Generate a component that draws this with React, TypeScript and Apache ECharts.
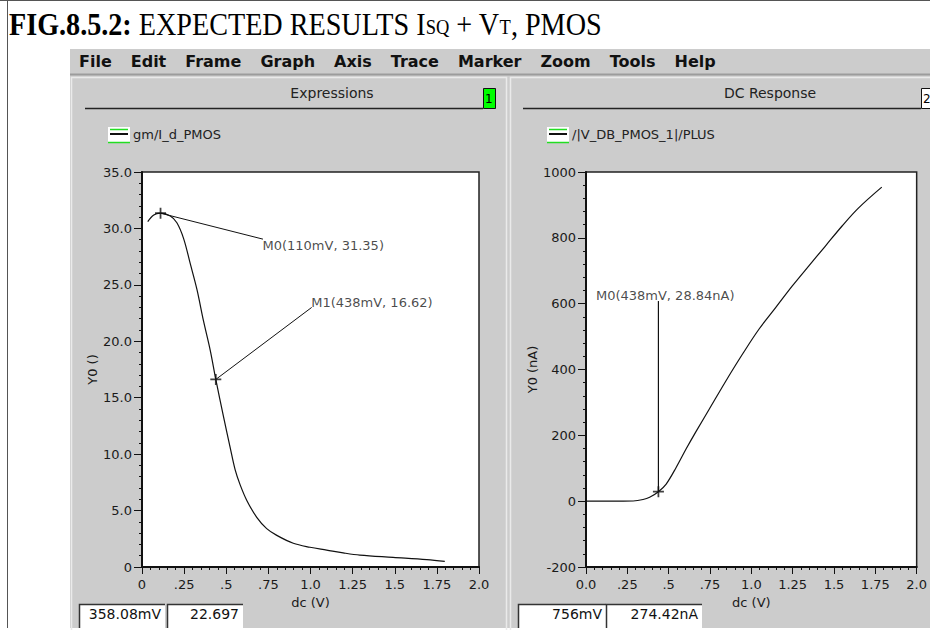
import React, { useEffect, useRef } from "react";
import * as echarts from "echarts";

// ---------- texts ----------
const menuItems = ["File", "Edit", "Frame", "Graph", "Axis", "Trace", "Marker", "Zoom", "Tools", "Help"];
const panelTitles = ["Expressions", "DC Response"];
const panelNumbers = ["1", "2"];
const legendNames = ["gm/I_d_PMOS", "/|V_DB_PMOS_1|/PLUS"];
const xAxisName = "dc (V)";
const yAxisNames = ["Y0 ()", "Y0 (nA)"];

// ---------- tick labels ----------
const xTickLabelsLeft = ["0", ".25", ".5", ".75", "1.0", "1.25", "1.5", "1.75", "2.0"];
const xTickLabelsRight = ["0.0", ".25", ".5", ".75", "1.0", "1.25", "1.5", "1.75", "2.0"];
const yTickLabelsLeft = ["0", "5.0", "10.0", "15.0", "20.0", "25.0", "30.0", "35.0"];
const yTickLabelsRight = ["-200", "0", "200", "400", "600", "800", "1000"];

// ---------- gm/Id curve ----------
const gmX = [0.034, 0.07, 0.11, 0.168, 0.207, 0.247, 0.286, 0.326, 0.365, 0.405, 0.438, 0.484, 0.523, 0.553, 0.582, 0.622, 0.681, 0.74, 0.8, 0.898, 0.997, 1.096, 1.194, 1.293, 1.49, 1.69, 1.797];
const gmY = [30.6, 31.2, 31.35, 31.1, 30.5, 29.1, 26.9, 24.6, 21.8, 19.2, 16.62, 13.3, 10.6, 8.6, 7.3, 5.9, 4.4, 3.4, 2.8, 2.1, 1.75, 1.5, 1.25, 1.05, 0.85, 0.65, 0.5];

// ---------- Id curve (nA) ----------
const idX = [0, 0.1, 0.2, 0.285, 0.345, 0.385, 0.438, 0.485, 0.546, 0.606, 0.666, 0.746, 0.847, 0.947, 1.047, 1.147, 1.248, 1.348, 1.448, 1.549, 1.649, 1.789];
const idY = [0, 0, 0, 0.5, 5, 12, 28.84, 52, 103, 159, 212, 280, 366, 447, 523, 588, 654, 715, 775, 836, 891, 954];

// ---------- markers ----------
const gmMarkerX = [0.11, 0.438];
const gmMarkerY = [31.35, 16.62];
const gmMarkerLabels = ["M0(110mV, 31.35)", "M1(438mV, 16.62)"];
const gmLabelAnchorX = [0.718, 1.007];
const gmLabelAnchorY = [29.05, 23.0];

const idMarkerX = [0.438];
const idMarkerY = [28.84];
const idMarkerLabels = ["M0(438mV, 28.84nA)"];
const idLabelAnchorY = [608];

// ---------- cursor readouts ----------
const readoutLeft = ["358.08mV", "22.697"];
const readoutRight = ["756mV", "274.42nA"];

const SANS = "DejaVu Sans";
const INK = "#1a1a1a";
const GREY = "#cccccc";
const CROSS = "path://M0,4.2H10V5.8H0Z M4.2,0H5.8V10H4.2Z";

function measure(text: string, font: string): number {
  const c = document.createElement("canvas").getContext("2d");
  if (!c) return text.length * 9;
  c.font = font;
  return c.measureText(text).width;
}

function xAxisOpt(gridIndex: number, labels: string[]) {
  return {
    type: "value",
    gridIndex,
    min: 0,
    max: 2,
    interval: 0.25,
    axisLine: { show: true, onZero: false, lineStyle: { color: "#111", width: 2 } },
    axisTick: { show: true, length: 7, lineStyle: { color: "#111", width: 1 } },
    minorTick: { show: true, splitNumber: 5, length: 3, lineStyle: { color: "#111", width: 1 } },
    splitLine: { show: false },
    minorSplitLine: { show: false },
    axisLabel: {
      margin: 11,
      hideOverlap: false,
      showMinLabel: true,
      showMaxLabel: true,
      fontFamily: SANS,
      fontSize: 13,
      color: INK,
      formatter: (v: number) => labels[Math.round(v / 0.25)] ?? "",
    },
    name: xAxisName,
    nameLocation: "middle",
    nameGap: 28,
    nameTextStyle: { fontFamily: SANS, fontSize: 13, color: INK },
  };
}

function yAxisOpt(gridIndex: number, min: number, max: number, interval: number, labels: string[], name: string, nameGap: number) {
  return {
    type: "value",
    gridIndex,
    min,
    max,
    interval,
    axisLine: { show: true, onZero: false, lineStyle: { color: "#111", width: 2 } },
    axisTick: { show: true, length: 8, lineStyle: { color: "#111", width: 1 } },
    minorTick: { show: true, splitNumber: 5, length: 3, lineStyle: { color: "#111", width: 1 } },
    splitLine: { show: false },
    minorSplitLine: { show: false },
    axisLabel: {
      margin: 10,
      hideOverlap: false,
      showMinLabel: true,
      showMaxLabel: true,
      fontFamily: SANS,
      fontSize: 13,
      color: INK,
      formatter: (v: number) => labels[Math.round((v - min) / interval)] ?? "",
    },
    name,
    nameLocation: "middle",
    nameGap,
    nameRotate: 90,
    nameTextStyle: { fontFamily: SANS, fontSize: 13, color: INK },
  };
}

function buildGraphic() {
  const g: any[] = [];
  // outer frame lines
  g.push({ type: "line", z: -20, shape: { x1: 0, y1: 0.5, x2: 930, y2: 0.5 }, style: { stroke: "#555", lineWidth: 1 } });
  g.push({ type: "line", z: -20, shape: { x1: 7.5, y1: 0, x2: 7.5, y2: 628 }, style: { stroke: "#555", lineWidth: 1 } });
  // title
  g.push({
    type: "text",
    z: 5,
    x: 9,
    y: 6,
    scaleX: 0.88,
    style: {
      text: "{b|FIG.8.5.2:}{n| EXPECTED RESULTS I}{s|SQ}{n| + V}{s|T}{n|, PMOS}",
      rich: {
        b: { fontFamily: "Liberation Serif", fontWeight: "bold", fontSize: 32, lineHeight: 34, fill: "#000", verticalAlign: "bottom" },
        n: { fontFamily: "Liberation Serif", fontSize: 32, lineHeight: 34, fill: "#000", verticalAlign: "bottom" },
        s: { fontFamily: "Liberation Serif", fontSize: 21, lineHeight: 21, fill: "#000", verticalAlign: "bottom", padding: [0, 0, 3, 0] },
      },
    },
  });
  // window background
  g.push({ type: "rect", z: -10, shape: { x: 70, y: 49, width: 860, height: 579 }, style: { fill: GREY } });
  // menu bar separator
  g.push({ type: "line", z: -9, shape: { x1: 70, y1: 74.5, x2: 930, y2: 74.5 }, style: { stroke: "#9c9c9c", lineWidth: 2 } });
  // menu
  const menuFont = `bold 16px "${SANS}"`;
  let mx = 79;
  menuItems.forEach((w) => {
    g.push({ type: "text", z: 5, x: mx, y: 61, style: { text: w, fontFamily: SANS, fontWeight: "bold", fontSize: 16, fill: "#111", verticalAlign: "middle", align: "left" } });
    mx += measure(w, menuFont) + 19;
  });
  // panels
  const panels = [
    { x: 71.5, w: 435, titleX: 332, lineX1: 85, lineX2: 483, boxX: 483, boxFill: "#00ff00", legendX: 108 },
    { x: 510.5, w: 430, titleX: 770, lineX1: 523, lineX2: 921, boxX: 921, boxFill: "#ffffff", legendX: 547 },
  ];
  panels.forEach((p, i) => {
    g.push({ type: "rect", z: -9, shape: { x: p.x, y: 77.5, width: p.w, height: 560 }, style: { fill: "none", stroke: "#eaeaea", lineWidth: 1.5 } });
    g.push({ type: "text", z: 5, x: p.titleX, y: 93, style: { text: panelTitles[i], fontFamily: SANS, fontSize: 14, fill: "#222", align: "center", verticalAlign: "middle" } });
    g.push({ type: "line", z: 2, shape: { x1: p.lineX1, y1: 108.5, x2: p.lineX2, y2: 108.5 }, style: { stroke: "#222", lineWidth: 1.5 } });
    g.push({ type: "rect", z: 3, shape: { x: p.boxX + 0.5, y: 88.5, width: 12, height: 20 }, style: { fill: p.boxFill, stroke: "#111", lineWidth: 1 } });
    g.push({ type: "text", z: 4, x: p.boxX + 2, y: 99, style: { text: panelNumbers[i], fontFamily: SANS, fontSize: 12, fill: "#000", align: "left", verticalAlign: "middle" } });
    // legend icon
    const lx = p.legendX;
    g.push({ type: "rect", z: 3, shape: { x: lx, y: 127, width: 22, height: 16 }, style: { fill: "#ffffff" } });
    g.push({ type: "line", z: 4, shape: { x1: lx + 2, y1: 129.5, x2: lx + 20, y2: 129.5 }, style: { stroke: "#22dd22", lineWidth: 1.5 } });
    g.push({ type: "line", z: 4, shape: { x1: lx + 2, y1: 134, x2: lx + 20, y2: 134 }, style: { stroke: "#111", lineWidth: 2 } });
    g.push({ type: "line", z: 4, shape: { x1: lx, y1: 142.5, x2: lx + 22, y2: 142.5 }, style: { stroke: "#22dd22", lineWidth: 1.5 } });
    g.push({ type: "text", z: 5, x: lx + 25, y: 134, style: { text: legendNames[i], fontFamily: SANS, fontSize: 13, fill: "#222", verticalAlign: "middle", align: "left" } });
  });
  // readout boxes
  const readouts = [
    { boxes: [[79, 165], [167, 243]], texts: readoutLeft },
    { boxes: [[518, 606], [606, 702]], texts: readoutRight },
  ];
  readouts.forEach((r) => {
    r.boxes.forEach(([x1, x2], j) => {
      g.push({ type: "rect", z: 3, shape: { x: x1, y: 604, width: x2 - x1, height: 24 }, style: { fill: "#ffffff" } });
      g.push({ type: "polyline", z: 4, shape: { points: [[x1 + 0.5, 628], [x1 + 0.5, 604.5], [x2, 604.5]] }, style: { stroke: "#333", lineWidth: 1.5, fill: "none" } });
      g.push({ type: "text", z: 5, x: x2 - 4, y: 614, style: { text: r.texts[j], fontFamily: SANS, fontSize: 14, fill: "#111", align: "right", verticalAlign: "middle" } });
    });
  });
  return g;
}

export default function App() {
  const ref = useRef<HTMLDivElement>(null);
  useEffect(() => {
    if (!ref.current) return;
    const chart = echarts.init(ref.current, undefined, { renderer: "svg" });
    const labelStyle = { fontFamily: SANS, fontSize: 13, color: INK };
    const option: any = {
      animation: false,
      backgroundColor: "#ffffff",
      graphic: buildGraphic(),
      grid: [
        { left: 142, top: 172, width: 337, height: 395, show: true, backgroundColor: "#ffffff", borderColor: "#222", borderWidth: 1.5, z: 0 },
        { left: 586, top: 172, width: 332, height: 395, show: true, backgroundColor: "#ffffff", borderColor: "#222", borderWidth: 1.5, z: 0 },
      ],
      xAxis: [xAxisOpt(0, xTickLabelsLeft), xAxisOpt(1, xTickLabelsRight)],
      yAxis: [
        yAxisOpt(0, 0, 35, 5, yTickLabelsLeft, yAxisNames[0], 42),
        yAxisOpt(1, -200, 1000, 200, yTickLabelsRight, yAxisNames[1], 46),
      ],
      series: [
        {
          type: "line",
          xAxisIndex: 0,
          yAxisIndex: 0,
          data: gmX.map((x, i) => [x, gmY[i]]),
          showSymbol: false,
          symbol: "none",
          smooth: 0.35,
          lineStyle: { color: "#111", width: 1.2 },
          silent: true,
        },
        {
          type: "line",
          xAxisIndex: 1,
          yAxisIndex: 1,
          data: idX.map((x, i) => [x, idY[i]]),
          showSymbol: false,
          symbol: "none",
          smooth: 0.35,
          lineStyle: { color: "#111", width: 1.2 },
          silent: true,
        },
        ...gmMarkerX.map((x, i) => ({
          type: "line",
          xAxisIndex: 0,
          yAxisIndex: 0,
          data: [[x, gmMarkerY[i]], [gmLabelAnchorX[i], gmLabelAnchorY[i]]],
          showSymbol: false,
          symbol: "none",
          lineStyle: { color: "#111", width: 1 },
          silent: true,
        })),
        ...idMarkerX.map((x, i) => ({
          type: "line",
          xAxisIndex: 1,
          yAxisIndex: 1,
          data: [[x, idMarkerY[i]], [x, idLabelAnchorY[i]]],
          showSymbol: false,
          symbol: "none",
          lineStyle: { color: "#111", width: 1.2 },
          silent: true,
        })),
        {
          type: "scatter",
          xAxisIndex: 0,
          yAxisIndex: 0,
          data: gmMarkerX.map((x, i) => [x, gmMarkerY[i]]),
          symbol: CROSS,
          symbolSize: 11,
          itemStyle: { color: "#111" },
          silent: true,
        },
        {
          type: "scatter",
          xAxisIndex: 1,
          yAxisIndex: 1,
          data: idMarkerX.map((x, i) => [x, idMarkerY[i]]),
          symbol: CROSS,
          symbolSize: 11,
          itemStyle: { color: "#111" },
          silent: true,
        },
        {
          type: "scatter",
          xAxisIndex: 0,
          yAxisIndex: 0,
          symbolSize: 1,
          itemStyle: { color: "rgba(0,0,0,0)" },
          data: gmLabelAnchorX.map((x, i) => ({
            value: [x, gmLabelAnchorY[i]],
            label: { verticalAlign: i === 0 ? "top" : "bottom", position: i === 0 ? [0, 0] : [0, 2] },
          })),
          label: { show: true, align: "left", formatter: (p: any) => gmMarkerLabels[p.dataIndex], ...labelStyle },
          silent: true,
        },
        {
          type: "scatter",
          xAxisIndex: 1,
          yAxisIndex: 1,
          symbolSize: 1,
          itemStyle: { color: "rgba(0,0,0,0)" },
          data: idMarkerX.map((x, i) => [x, idLabelAnchorY[i]]),
          label: { show: true, position: [-62, 1], align: "left", verticalAlign: "bottom", formatter: (p: any) => idMarkerLabels[p.dataIndex], ...labelStyle },
          silent: true,
        },
      ],
    };
    chart.setOption(option);
    return () => chart.dispose();
  }, []);
  return <div ref={ref} style={{ position: "fixed", left: 0, top: 0, width: 930, height: 630 }} />;
}
